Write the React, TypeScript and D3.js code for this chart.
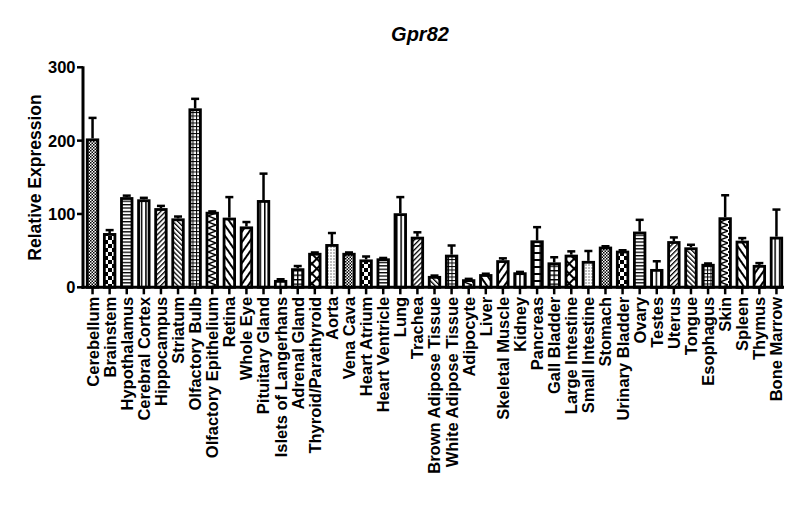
import React from "react";
import * as d3 from "d3";

const categories = [
  "Cerebellum", "Brainstem", "Hypothalamus", "Cerebral Cortex", "Hippocampus", "Striatum",
  "Olfactory Bulb", "Olfactory Epithelium", "Retina", "Whole Eye", "Pituitary Gland",
  "Islets of Langerhans", "Adrenal Gland", "Thyroid/Parathyroid", "Aorta", "Vena Cava",
  "Heart Atrium", "Heart Ventricle", "Lung", "Trachea", "Brown Adipose Tissue",
  "White Adipose Tissue", "Adipocyte", "Liver", "Skeletal Muscle", "Kidney", "Pancreas",
  "Gall Bladder", "Large Intestine", "Small Intestine", "Stomach", "Urinary Bladder",
  "Ovary", "Testes", "Uterus", "Tongue", "Esophagus", "Skin", "Spleen", "Thymus", "Bone Marrow",
];

const values = [
  203, 74, 123, 120, 108, 94, 244, 103, 95, 83, 119, 10, 26, 47, 59, 47, 38, 39.5, 101, 69,
  15.5, 44.5, 11, 18, 37, 20.5, 64, 34, 44.5, 36, 55.5, 50, 76, 25, 63, 54.5, 32, 95.5, 63.6,
  30.5, 69,
];

const errors = [
  28, 4, 2, 2, 3, 2.5, 13, 0.5, 28, 6, 36, 1, 3, 0.5, 15, 0.5, 4, 0.5, 22, 6, 0.5, 12.5, 0.5,
  0.5, 2.5, 0.5, 18, 7, 4.5, 13.5, 0.5, 0.5, 16, 10.5, 5, 3.5, 0.5, 30, 3.5, 2.5, 37,
];

const yTicks = [0, 100, 200, 300];

const patternIds = [
  "fineCheck", "bigCheck", "hLines", "vLines", "diagF", "diagB", "gridS", "zigzag",
  "wideB", "wideF", "vLines", "ladder", "gridL", "diamonds", "dots",
];

function Patterns() {
  return (
    <defs>
      <pattern id="fineCheck" width="3" height="3" patternUnits="userSpaceOnUse">
        <rect width="3" height="3" fill="#fff" />
        <rect width="1.5" height="1.5" fill="#000" />
        <rect x="1.5" y="1.5" width="1.5" height="1.5" fill="#000" />
      </pattern>
      <pattern id="bigCheck" width="8" height="8" patternUnits="userSpaceOnUse">
        <rect width="8" height="8" fill="#fff" />
        <rect width="4" height="4" fill="#000" />
        <rect x="4" y="4" width="4" height="4" fill="#000" />
      </pattern>
      <pattern id="hLines" width="4" height="3.4" patternUnits="userSpaceOnUse">
        <rect width="4" height="3.4" fill="#fff" />
        <rect width="4" height="1.3" fill="#000" />
      </pattern>
      <pattern id="vLines" width="4.4" height="4" patternUnits="userSpaceOnUse">
        <rect width="4.4" height="4" fill="#fff" />
        <rect width="1.5" height="4" fill="#000" />
      </pattern>
      <pattern id="diagF" width="3.5" height="3.5" patternUnits="userSpaceOnUse" patternTransform="rotate(45)">
        <rect width="3.5" height="3.5" fill="#fff" />
        <rect width="1.3" height="3.5" fill="#000" />
      </pattern>
      <pattern id="diagB" width="3.5" height="3.5" patternUnits="userSpaceOnUse" patternTransform="rotate(-45)">
        <rect width="3.5" height="3.5" fill="#fff" />
        <rect width="1.3" height="3.5" fill="#000" />
      </pattern>
      <pattern id="wideF" width="6" height="6" patternUnits="userSpaceOnUse" patternTransform="rotate(35)">
        <rect width="6" height="6" fill="#fff" />
        <rect width="2" height="6" fill="#000" />
      </pattern>
      <pattern id="wideB" width="6" height="6" patternUnits="userSpaceOnUse" patternTransform="rotate(-35)">
        <rect width="6" height="6" fill="#fff" />
        <rect width="2" height="6" fill="#000" />
      </pattern>
      <pattern id="gridS" width="3.5" height="3.5" patternUnits="userSpaceOnUse">
        <rect width="3.5" height="3.5" fill="#fff" />
        <rect width="3.5" height="1" fill="#000" />
        <rect width="1" height="3.5" fill="#000" />
      </pattern>
      <pattern id="gridL" width="4.5" height="4.5" patternUnits="userSpaceOnUse">
        <rect width="4.5" height="4.5" fill="#fff" />
        <rect width="4.5" height="1.4" fill="#000" />
        <rect width="1.4" height="4.5" fill="#000" />
      </pattern>
      <pattern id="ladder" width="6.5" height="7" patternUnits="userSpaceOnUse">
        <rect width="6.5" height="7" fill="#fff" />
        <rect width="6.5" height="2" fill="#000" />
        <rect width="1.6" height="7" fill="#000" />
      </pattern>
      <pattern id="zigzag" width="8" height="6" patternUnits="userSpaceOnUse">
        <rect width="8" height="6" fill="#fff" />
        <polyline points="0,0 8,3 0,6" fill="none" stroke="#000" strokeWidth="1.4" />
      </pattern>
      <pattern id="diamonds" width="7" height="7" patternUnits="userSpaceOnUse" patternTransform="rotate(45)">
        <rect width="7" height="7" fill="#fff" />
        <rect width="2" height="7" fill="#000" />
        <rect width="7" height="2" fill="#000" />
      </pattern>
      <pattern id="dots" width="3" height="3" patternUnits="userSpaceOnUse">
        <rect width="3" height="3" fill="#fff" />
        <rect x="0.5" y="0.5" width="1" height="1" fill="#000" />
      </pattern>
    </defs>
  );
}

export default function App() {
  const W = 800;
  const H = 528;
  const x = d3
    .scaleBand<string>()
    .domain(categories)
    .range([84, 785])
    .paddingInner(0.22)
    .paddingOuter(0.11);
  const y = d3.scaleLinear().domain([0, 300]).range([287.3, 67.3]);
  const bw = x.bandwidth();
  const sw = 2.8;
  const base = y(0);
  const font = "'Liberation Sans', Arial, sans-serif";

  return (
    <svg
      width={W}
      height={H}
      style={{ position: "absolute", left: 0, top: 0, background: "#fff" }}
      fontFamily={font}
    >
      <Patterns />
      <rect width={W} height={H} fill="#fff" />
      <text x={420} y={40.5} textAnchor="middle" fontSize={20} fontWeight="bold" fontStyle="italic">
        Gpr82
      </text>
      <text
        transform={`translate(41, 177.5) rotate(-90)`}
        textAnchor="middle"
        fontSize={17.5}
        fontWeight="bold"
      >
        Relative Expression
      </text>

      {/* bars */}
      {categories.map((c, i) => {
        const x0 = x(c)!;
        const v = values[i];
        const top = y(v);
        const pid = patternIds[i % patternIds.length];
        return (
          <rect
            key={c}
            x={x0 + sw / 2}
            y={top + sw / 2}
            width={bw - sw}
            height={Math.max(0, base - top - sw / 2)}
            fill={`url(#${pid})`}
            stroke="#000"
            strokeWidth={sw}
          />
        );
      })}

      {/* error bars */}
      {categories.map((c, i) => {
        const cx = x(c)! + bw / 2;
        const top = y(values[i]);
        const et = y(values[i] + errors[i]);
        return (
          <g key={c + "e"} stroke="#000" strokeWidth={2.5}>
            <line x1={cx} x2={cx} y1={top} y2={et} />
            <line x1={cx - 4} x2={cx + 4} y1={et} y2={et} />
          </g>
        );
      })}

      {/* y axis */}
      <line x1={83} x2={83} y1={base + 1.5} y2={y(300) - 1} stroke="#000" strokeWidth={3} />
      {yTicks.map((t) => (
        <g key={t}>
          <line x1={77} x2={83} y1={y(t)} y2={y(t)} stroke="#000" strokeWidth={2.5} />
          <text x={75.5} y={y(t)} dy="0.36em" textAnchor="end" fontSize={16.5} fontWeight="bold">
            {t}
          </text>
        </g>
      ))}

      {/* x axis */}
      <line x1={81.5} x2={784} y1={base} y2={base} stroke="#000" strokeWidth={3} />
      {categories.map((c) => {
        const cx = x(c)! + bw / 2;
        return (
          <g key={c + "t"}>
            <line x1={cx} x2={cx} y1={base} y2={base + 7} stroke="#000" strokeWidth={2.5} />
            <text
              transform={`translate(${cx}, ${base + 9.5}) rotate(-90)`}
              dy="0.36em"
              textAnchor="end"
              fontSize={16.5}
              fontWeight="bold"
            >
              {c}
            </text>
          </g>
        );
      })}
    </svg>
  );
}
